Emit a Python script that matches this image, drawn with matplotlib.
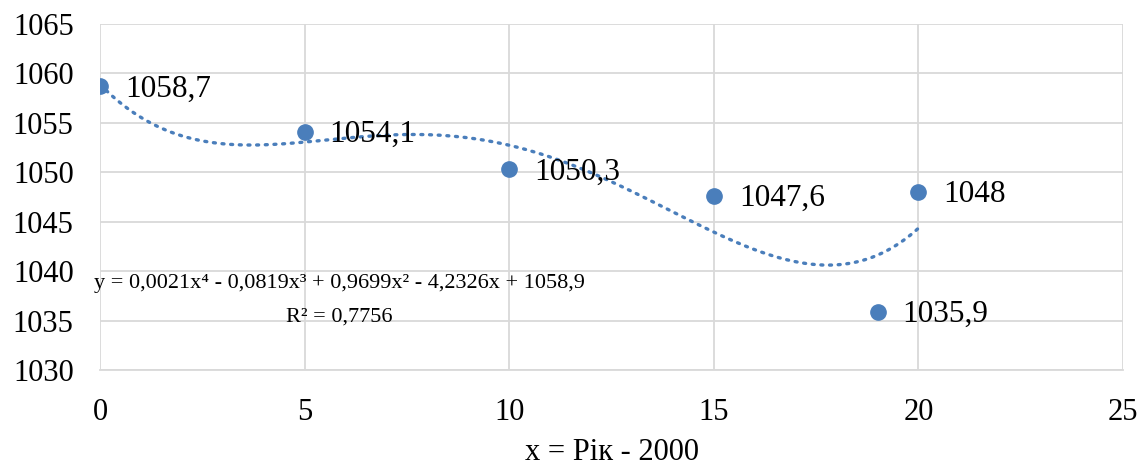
import numpy as np
import matplotlib
matplotlib.use('Agg')
import matplotlib.pyplot as plt

plt.rcParams['font.family'] = ['Liberation Serif', 'DejaVu Serif']

# data
years = [0, 5, 10, 15, 19, 20]
values = [1058.7, 1054.1, 1050.3, 1047.6, 1035.9, 1048.0]
labels = ['1058,7', '1054,1', '1050,3', '1047,6', '1035,9', '1048']
x_ticks = [0, 5, 10, 15, 20, 25]
y_ticks = [1030, 1035, 1040, 1045, 1050, 1055, 1060, 1065]
equation = 'y = 0,0021x⁴ - 0,0819x³ + 0,9699x² - 4,2326x + 1058,9'
r2_text = 'R² = 0,7756'

blue = '#4a7ebb'
grid = '#d9d9d9'

fig = plt.figure(figsize=(11.46, 4.67), dpi=100)
ax = fig.add_axes([0.0873, 0.2077, 0.8927, 0.7409])

# polynomial trendline (4th order), fitted on the points
coef = np.polyfit(years, values, 4)
xs = np.linspace(0, 20, 300)
ax.plot(xs, np.polyval(coef, xs), color=blue, lw=2.4, ls=(0, (0.6, 2.0)),
        dash_capstyle='round', zorder=2)

ax.plot(years, values, 'o', color=blue, ms=11, zorder=3)
for x, y, s in zip(years, values, labels):
    ax.annotate(s, (x, y), xytext=(18, -2), textcoords='offset points',
                va='center', ha='left', fontsize=22.5)

ax.text(0.234, 0.251, equation, transform=ax.transAxes, ha='center',
        va='center', fontsize=16)
ax.text(0.234, 0.153, r2_text, transform=ax.transAxes, ha='center',
        va='center', fontsize=16)

ax.set_xlim(0, 25)
ax.set_ylim(1030, 1065)
ax.set_xticks(x_ticks)
ax.set_yticks(y_ticks)
ax.tick_params(length=0, labelsize=22)
ax.tick_params(axis='y', pad=19)
ax.tick_params(axis='x', pad=20)
ax.grid(True, color=grid, lw=1.3)
ax.set_axisbelow(True)
for side in ['top', 'right', 'left']:
    ax.spines[side].set_visible(False)
ax.spines['bottom'].set_color(grid)
ax.spines['bottom'].set_linewidth(1.3)

ax.set_xlabel('x = Рік - 2000', fontsize=22, labelpad=8)

fig.savefig('out.png', dpi=100)
